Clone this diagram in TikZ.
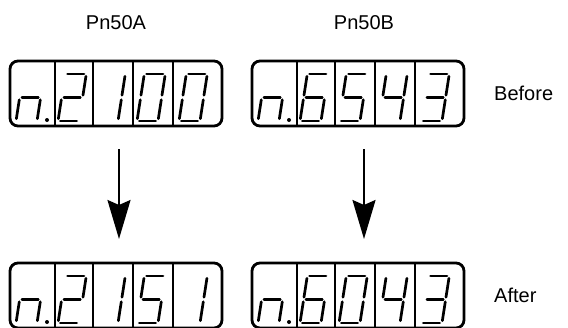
\documentclass[tikz,border=0pt]{standalone}
\usepackage{fontspec}
\setmainfont{Liberation Sans}
\usetikzlibrary{arrows.meta}
\def\W{21}\def\H{47}\def\S{0.155}\def\G{2.3}
\newcommand{\sA}{\draw[seg] ({\G+\S*\H},\H) -- ({\W-\G+\S*\H},\H);}
\newcommand{\sB}{\draw[seg] ({\W+\S*(\H/2+\G)},{\H/2+\G}) -- ({\W+\S*(\H-\G)},{\H-\G});}
\newcommand{\sC}{\draw[seg] ({\W+\S*\G},\G) -- ({\W+\S*(\H/2-\G)},{\H/2-\G});}
\newcommand{\sD}{\draw[seg] (\G,0) -- ({\W-\G},0);}
\newcommand{\sE}{\draw[seg] ({\S*\G},\G) -- ({\S*(\H/2-\G)},{\H/2-\G});}
\newcommand{\sF}{\draw[seg] ({\S*(\H/2+\G)},{\H/2+\G}) -- ({\S*(\H-\G)},{\H-\G});}
\newcommand{\sG}{\draw[seg] ({\G+\S*\H/2},{\H/2}) -- ({\W-\G+\S*\H/2},{\H/2});}
\newcommand{\segdigit}[3]{\begin{scope}[shift={(#1,#2)},yscale=-1]#3\end{scope}}
\newcommand{\dZero}{\sA\sB\sC\sD\sE\sF}
\newcommand{\dOne}{\sB\sC}
\newcommand{\dTwo}{\sA\sB\sG\sE\sD}
\newcommand{\dThree}{\sA\sB\sG\sC\sD}
\newcommand{\dFour}{\sF\sG\sB\sC}
\newcommand{\dFive}{\sA\sF\sG\sC\sD}
\newcommand{\dSix}{\sA\sF\sG\sE\sC\sD}
\newcommand{\dN}{\sE\sG\sC}
% display: #1 name, #2 left x, #3 top y, #4..#7 digits
\newcommand{\display}[7]{%
  \node[dispbox,anchor=north west] (#1) at (#2,#3) {};
  \foreach \dx in {45,83,123,163}{\draw[divst] ([xshift=\dx pt]#1.north west) -- ([xshift=\dx pt]#1.south west);}
  \segdigit{#2+6}{#3+60}{\dN}
  \fill ({#2+37},{#3+59}) circle (2pt);
  \segdigit{#2+48}{#3+60}{#4}
  \segdigit{#2+87}{#3+60}{#5}
  \segdigit{#2+127}{#3+60}{#6}
  \segdigit{#2+169}{#3+60}{#7}
}
\begin{document}
\begin{tikzpicture}[x=1pt,y=-1pt,
  seg/.style={line width=2.7pt,line cap=round},
  dispbox/.style={draw,line width=2.8pt,rounded corners=8pt,minimum width=212pt,minimum height=65pt,inner sep=0pt,outer sep=0pt},
  divst/.style={line width=2.2pt},
  lbl/.style={font=\fontsize{20}{24}\selectfont,inner sep=0pt},
  arr/.style={line width=2.2pt,-{Stealth[length=39pt,width=23pt,inset=5pt]}}]
\useasboundingbox (0,0) rectangle (568,327);
\node[lbl] (p1) at (116,23) {Pn50A};
\node[lbl] (p2) at (364,23) {Pn50B};
\node[lbl,anchor=west] (bef) at (494,93) {Before};
\node[lbl,anchor=west] (aft) at (494,295) {After};
\display{t1}{10}{61}{\dTwo}{\dOne}{\dZero}{\dZero}
\display{t2}{252}{61}{\dSix}{\dFive}{\dFour}{\dThree}
\display{u1}{10}{263}{\dTwo}{\dOne}{\dFive}{\dOne}
\display{u2}{252}{263}{\dSix}{\dZero}{\dFour}{\dThree}
\coordinate (a1s) at (119,149);
\coordinate (a1e) at (119,239);
\coordinate (a2s) at (364,149);
\coordinate (a2e) at (364,239);
\draw[arr] (a1s) -- (a1e);
\draw[arr] (a2s) -- (a2e);
\end{tikzpicture}
\end{document}
